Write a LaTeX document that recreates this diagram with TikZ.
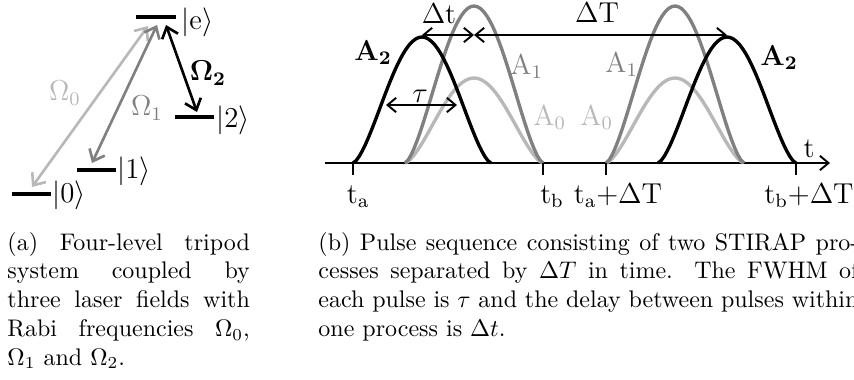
\documentclass[tikz,border=0pt]{standalone}
\usepackage{amsmath}
\usepackage{xcolor}
\usepackage{tikz}
\usetikzlibrary{arrows.meta}
\colorlet{lgray}{black!28}
\colorlet{mgray}{black!50}

\begin{document}
\begin{tikzpicture}[x=0.41667pt, y=-0.41667pt,
    >={Straight Barb[length=3.6pt, width=6pt]},
    level/.style={line width=1.3pt},
    coupling/.style={line width=1.1pt, {Straight Barb[length=4.2pt, width=7pt]}-{Straight Barb[length=4.2pt, width=7pt]}},
    pulse/.style={line width=1.4pt, line join=round},
    marker/.style={line width=0.8pt, <->},
    lab/.style={font=\fontsize{11.5}{13}\selectfont, inner sep=0pt},
    captext/.style={inner sep=0pt, align=justify, anchor=base west}]

  \useasboundingbox (0,0) rectangle (854,379);

  % --- (a) tripod level scheme -------------------------------------------------
  \draw[level] (136,17) -- (176,17);
  \draw[level] (175,117) -- (214,117);
  \draw[level] (77,170) -- (116,170);
  \draw[level] (12,194) -- (51,194);
  \node[lab, anchor=west] (kete) at (181,22) {$|\mathrm{e}\rangle$};
  \node[lab, anchor=west] (ket2) at (216,120) {$|2\rangle$};
  \node[lab, anchor=west] (ket1) at (117,171) {$|1\rangle$};
  \node[lab, anchor=west] (ket0) at (52,195) {$|0\rangle$};

  \coordinate (up0) at (148,26);  \coordinate (lo0) at (32,187);
  \coordinate (up1) at (157,25);  \coordinate (lo1) at (92,163);
  \coordinate (up2) at (166,25);  \coordinate (lo2) at (197,112);
  \draw[coupling, lgray] (lo0) -- (up0);
  \draw[coupling, mgray] (lo1) -- (up1);
  \draw[coupling] (up2) -- (lo2);
  \node[lab, lgray] (om0) at (65,93) {$\Omega_0$};
  \node[lab, mgray] (om1) at (147,108) {$\Omega_1$};
  \node[lab] (om2) at (208,73) {$\mathbf{\Omega_2}$};

  % --- (b) pulse sequence --------------------------------------------------------
  \draw[line width=0.8pt, ->] (325,163) coordinate (axl) -- (830,163) coordinate (axr);
  \foreach \s/\h/\c in {405/85/lgray, 606/85/lgray, 405/157/mgray, 606/157/mgray,
                        353/126/black, 658/126/black}
    \draw[pulse, \c] plot[domain=0:180, samples=45]
      ({\s+0.76667*\x}, {163-\h*sin(\x)*sqrt(abs(sin(\x)))});

  \foreach \t/\n in {353/ta, 543/tb, 606/tc, 796/td}
    \draw[line width=0.8pt] (\t,163) coordinate (\n) -- (\t,175);
  \node[lab, anchor=base] (lta) at (358,203) {$\mathrm{t_a}$};
  \node[lab, anchor=base] (ltb) at (552,203) {$\mathrm{t_b}$};
  \node[lab, anchor=base] (ltc) at (618,203) {$\mathrm{t_a{+}\Delta T}$};
  \node[lab, anchor=base] (ltd) at (809,203) {$\mathrm{t_b{+}\Delta T}$};
  \node[lab, anchor=base] (lt) at (809,157) {$\mathrm{t}$};

  % peaks and half maximum
  \coordinate (pk2) at (422,35);
  \coordinate (pk1) at (474,35);
  \coordinate (pk3) at (727,35);
  \coordinate (hl) at (386,105);
  \coordinate (hr) at (457,105);
  \draw[marker] (pk2) -- (pk1);
  \draw[marker] (pk1) -- (pk3);
  \draw[marker] (hl) -- (hr);
  \node[lab, anchor=base] (dt) at (439,23) {$\mathrm{\Delta t}$};
  \node[lab, anchor=base] (dT) at (597,22) {$\mathrm{\Delta T}$};
  \node[lab, anchor=base] (tau) at (420,102) {$\tau$};

  \node[lab, anchor=base west] (a2l) at (354,60) {$\mathbf{A_2}$};
  \node[lab, anchor=base west, mgray] (a1l) at (510,74) {$\mathrm{A_1}$};
  \node[lab, anchor=base west, lgray] (a0l) at (533,125) {$\mathrm{A_0}$};
  \node[lab, anchor=base west, lgray] (a0r) at (580,125) {$\mathrm{A_0}$};
  \node[lab, anchor=base west, mgray] (a1r) at (605,72) {$\mathrm{A_1}$};
  \node[lab, anchor=base west] (a2r) at (760,65) {$\mathbf{A_2}$};

  % --- captions ----------------------------------------------------------------
  \node[captext, text width=101pt] (capa) at (7,250) {%
    (a) Four-level tripod\linebreak system coupled by\linebreak three laser
    fields with\linebreak Rabi frequencies $\Omega_0$,\linebreak $\Omega_1$
    and $\Omega_2$.};
  \node[captext, text width=225pt] (capb) at (318,250) {%
    (b) Pulse sequence consisting of two STIRAP pro-\linebreak cesses separated
    by $\Delta T$ in time. The FWHM of\linebreak each pulse is $\tau$ and the
    delay between pulses within\linebreak one process is $\Delta t$.};

\end{tikzpicture}
\end{document}
